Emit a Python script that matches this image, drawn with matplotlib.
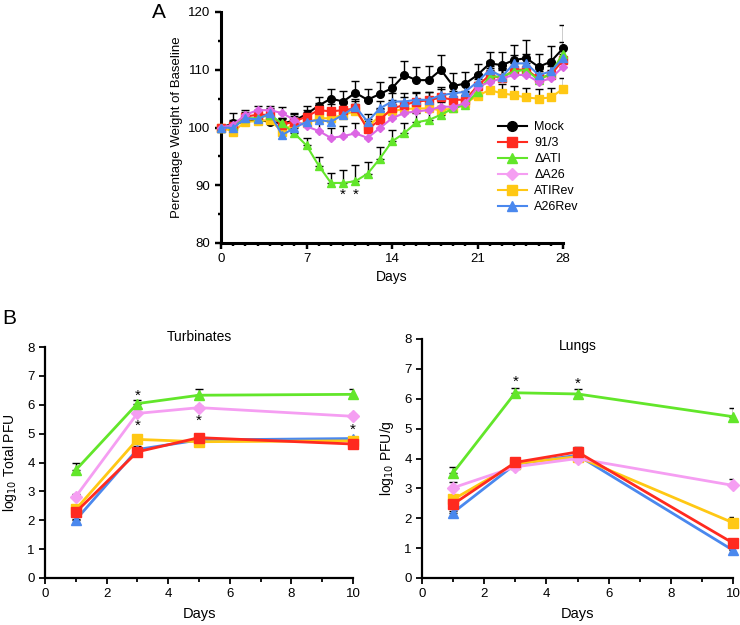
import numpy as np
import matplotlib
matplotlib.use("Agg")
import matplotlib.pyplot as plt
from matplotlib.lines import Line2D
from matplotlib.ticker import MultipleLocator

plt.rcParams['font.family'] = ['Liberation Sans', 'DejaVu Sans']

# ---- panel A: body weight ----
days_a = list(range(29))
mock = [100, 100.7, 101, 101.3, 101, 100.7, 101.2, 102.3, 103.8, 105, 104.5, 106, 104.8, 105.8, 106.8,
        109.1, 108.2, 108.2, 110, 107.2, 107.6, 109.1, 111.1, 110.8, 111.7, 112, 110.5, 111.4, 113.7]
mock_err = [0, 1.8, 1, 0.8, 0.8, 1, 1.2, 1.5, 1.5, 1.6, 1.8, 2.1, 1.8, 2, 2, 2.4, 2.2, 2.5, 2.5,
            2.2, 2, 1.9, 2, 2.2, 2.6, 3.2, 2.2, 2.7, 4]
wt_913 = [100, 100.2, 101.9, 102.2, 102.2, 100.5, 101, 101.9, 103, 102.8, 103, 103.3, 99.7, 101.3, 103.3,
          103.9, 104.5, 104.7, 105.2, 104.8, 104.8, 107.2, 109.1, 108.5, 110, 110, 108.5, 109.1, 111.7]
wt_913_err = [0, 0.8, 0.8, 0.8, 0.8, 1, 1, 1.2, 1.2, 1.3, 1.3, 1.3, 1.5, 1.5, 1.4, 1.4, 1.5, 1.5, 1.5,
              1.5, 1.5, 1.5, 1.5, 1.6, 1.6, 1.8, 1.6, 1.6, 2]
wt_dati = [100, 100.2, 101.6, 101.6, 102.2, 100.7, 99, 96.9, 93.4, 90.4, 90.4, 90.7, 92, 94.6, 97.6,
           99, 100.9, 101.3, 102.2, 103.3, 103.9, 106.2, 108.8, 108.8, 109.7, 110, 108.2, 109.4, 112.8]
wt_dati_err = [0, 0.8, 0.8, 0.8, 0.8, 1, 1.2, 1.3, 1.5, 1.8, 2.2, 2.8, 2, 2, 2, 1.8, 1.6, 1.5, 1.5,
               1.3, 1.3, 1.3, 1.5, 1.5, 1.5, 1.8, 1.6, 1.6, 2]
wt_da26 = [100, 100.5, 102.2, 103, 103, 102.5, 101.3, 100.2, 99.4, 98.2, 98.5, 99, 98.2, 99.9, 101.6,
           102.5, 102.8, 103, 103.6, 103.6, 104.2, 107, 107.9, 108.5, 109.1, 109.1, 107.9, 108.5, 110.5]
wt_da26_err = [0, 0.8, 0.8, 0.8, 0.8, 1, 1.2, 1.5, 1.6, 1.8, 1.8, 1.8, 1.8, 1.6, 1.5, 1.4, 1.4, 1.4, 1.4,
               1.4, 1.4, 1.4, 1.5, 1.5, 1.5, 1.6, 1.5, 1.5, 1.8]
wt_atirev = [100, 99.3, 101, 101.1, 101.3, 99.3, 100.7, 100.7, 101.6, 101.6, 102.2, 102.8, 100.2, 101.9, 102.8,
             103.2, 103.3, 103.3, 103, 103.3, 104.2, 105.5, 106.5, 105.9, 105.6, 105.2, 105, 105.2, 106.7]
wt_atirev_err = [0, 0.8, 0.8, 0.8, 0.8, 1, 1, 1.2, 1.2, 1.2, 1.2, 1.2, 1.3, 1.3, 1.3, 1.3, 1.4, 1.4, 1.4,
                 1.4, 1.4, 1.4, 1.5, 1.6, 1.6, 1.7, 1.7, 1.7, 1.8]
wt_a26rev = [100, 99.9, 101.6, 101.4, 102.5, 98.7, 99.9, 101, 101.3, 101, 102.2, 103.6, 101, 103.3, 104.5,
             104.5, 104.8, 104.8, 105.6, 105.9, 106.2, 107.9, 110, 108.8, 111.1, 111.1, 109.1, 109.7, 112]
wt_a26rev_err = [0, 0.8, 0.8, 0.8, 0.8, 1, 1, 1.2, 1.2, 1.2, 1.3, 1.3, 1.3, 1.3, 1.4, 1.4, 1.4, 1.4, 1.4,
                 1.4, 1.4, 1.4, 1.5, 1.5, 1.5, 1.6, 1.5, 1.5, 1.8]

# ---- panel B: viral titres ----
days_b = [1, 3, 5, 10]
turb_913 = [2.28, 4.37, 4.86, 4.64]
turb_913_err = [0.1, 0.2, 0.08, 0.05]
turb_dati = [3.74, 6.04, 6.33, 6.36]
turb_dati_err = [0.23, 0.14, 0.2, 0.18]
turb_da26 = [2.82, 5.7, 5.9, 5.6]
turb_da26_err = [0.1, 0.05, 0.05, 0.07]
turb_atirev = [2.38, 4.8, 4.72, 4.75]
turb_atirev_err = [0.1, 0.1, 0.05, 0.05]
turb_a26rev = [2.01, 4.45, 4.78, 4.83]
turb_a26rev_err = [0.05, 0.1, 0.05, 0.05]

lung_913 = [2.47, 3.87, 4.22, 1.17]
lung_913_err = [0.1, 0.1, 0.17, 0.15]
lung_dati = [3.52, 6.2, 6.16, 5.4]
lung_dati_err = [0.2, 0.15, 0.15, 0.28]
lung_da26 = [3.02, 3.72, 4.0, 3.1]
lung_da26_err = [0.2, 0.05, 0.05, 0.2]
lung_atirev = [2.63, 3.83, 4.06, 1.85]
lung_atirev_err = [0.1, 0.05, 0.05, 0.2]
lung_a26rev = [2.19, 3.81, 4.11, 0.93]
lung_a26rev_err = [0.05, 0.05, 0.05, 0.05]

labels = ['Mock', '91/3', '\u0394ATI', '\u0394A26', 'ATIRev', 'A26Rev']
colors = ['#000000', '#ff2a1f', '#62e62a', '#f59ef2', '#ffc814', '#4a88ee']
markers = ['o', 's', '^', 'D', 's', '^']
msizes = [6, 6, 6, 5, 6, 6]
pink_a = '#dc66e4'  # DA26 line looks more magenta in panel A

fig = plt.figure(figsize=(7.4, 6.25), dpi=100)


def style_axes(ax, lw):
    for s in ['top', 'right']:
        ax.spines[s].set_visible(False)
    for s in ['left', 'bottom']:
        ax.spines[s].set_linewidth(lw)
    ax.tick_params(which='both', direction='out', width=lw * 0.8, labelsize=9.5)


def draw(ax, x, y, err, color, marker, ms, lw):
    ax.errorbar(x, y, yerr=[np.zeros(len(err)), err], fmt='none', ecolor='black',
                elinewidth=1, capsize=3, capthick=1, zorder=2)
    ax.plot(x, y, color=color, marker=marker, ms=ms, lw=lw, mec=color, zorder=3, clip_on=False)


# panel A
axA = fig.add_axes([221 / 740, 1 - 243 / 625, 342 / 740, 231 / 625])
series_a = [(mock, mock_err), (wt_913, wt_913_err), (wt_dati, wt_dati_err),
            (wt_da26, wt_da26_err), (wt_atirev, wt_atirev_err), (wt_a26rev, wt_a26rev_err)]
order = [0, 4, 1, 2, 3, 5]
for i in order:
    y, e = series_a[i]
    c = pink_a if i == 3 else colors[i]
    draw(axA, days_a, y, e, c, markers[i], msizes[i] - 0.5, 1.5)
axA.set_xlim(0, 28)
axA.set_ylim(80, 120)
axA.xaxis.set_major_locator(MultipleLocator(7))
axA.xaxis.set_minor_locator(MultipleLocator(1))
axA.yaxis.set_major_locator(MultipleLocator(10))
axA.yaxis.set_minor_locator(MultipleLocator(5))
style_axes(axA, 2.2)
axA.tick_params(which='major', length=4)
axA.tick_params(which='minor', length=2.5)
axA.set_xlabel('Days', fontsize=10, labelpad=3)
axA.set_ylabel('Percentage Weight of Baseline', fontsize=9.5, labelpad=4)
for d in [10, 11]:
    axA.text(d, 89.6, '*', ha='center', va='top', fontsize=11)

handles = [Line2D([], [], color=colors[i], marker=markers[i], ms=msizes[i] + 1, lw=1.5)
           for i in range(6)]
fig.legend(handles, labels, loc='upper left', bbox_to_anchor=(498 / 740, 1 - 121 / 625),
           frameon=False, fontsize=9, handlelength=2.3, handletextpad=0.6,
           labelspacing=0.32, borderpad=0, borderaxespad=0)
fig.text(152 / 740, 1 - 12 / 625, 'A', fontsize=15, va='center', ha='left')

# panel B
series_t = [(turb_a26rev, turb_a26rev_err, 5), (turb_atirev, turb_atirev_err, 4),
            (turb_da26, turb_da26_err, 3), (turb_913, turb_913_err, 1), (turb_dati, turb_dati_err, 2)]
series_l = [(lung_a26rev, lung_a26rev_err, 5), (lung_atirev, lung_atirev_err, 4),
            (lung_da26, lung_da26_err, 3), (lung_913, lung_913_err, 1), (lung_dati, lung_dati_err, 2)]

axT = fig.add_axes([45 / 740, 1 - 578 / 625, 308 / 740, 231 / 625])
axL = fig.add_axes([422 / 740, 1 - 578 / 625, 311 / 740, 239 / 625])
for ax, series, ylab in [(axT, series_t, 'log$_{10}$ Total PFU'),
                         (axL, series_l, 'log$_{10}$ PFU/g')]:
    for y, e, i in series:
        draw(ax, days_b, y, e, colors[i], markers[i], msizes[i] + 1, 2)
    ax.set_xlim(0, 10)
    ax.set_ylim(0, 8)
    ax.xaxis.set_major_locator(MultipleLocator(2))
    ax.xaxis.set_minor_locator(MultipleLocator(1))
    ax.yaxis.set_major_locator(MultipleLocator(1))
    style_axes(ax, 1.6)
    ax.tick_params(which='major', length=4)
    ax.tick_params(axis='x', which='minor', length=3)
    ax.set_xlabel('Days', fontsize=10.5, labelpad=5)
    ax.set_ylabel(ylab, fontsize=10, labelpad=6)

axT.text(5, 8.1, 'Turbinates', ha='center', va='bottom', fontsize=10)
axL.text(5, 7.75, 'Lungs', ha='center', va='center', fontsize=10)

for x, y in [(3, 6.55), (3, 5.5), (5, 5.68), (10, 5.38)]:
    axT.text(x, y, '*', ha='center', va='top', fontsize=11)
for x, y in [(3, 6.8), (5, 6.75)]:
    axL.text(x, y, '*', ha='center', va='top', fontsize=11)

fig.text(2 / 740, 1 - 318 / 625, 'B', fontsize=15, va='center', ha='left')

fig.savefig('out.png', dpi=100)
